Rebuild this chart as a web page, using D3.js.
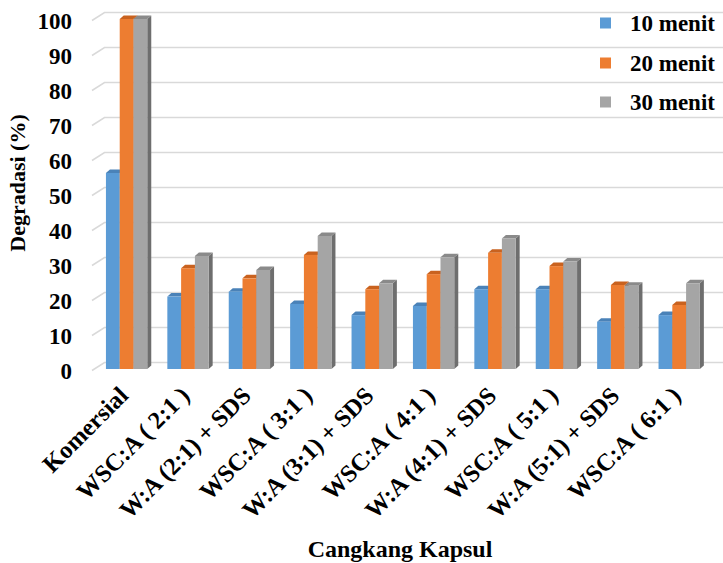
<!DOCTYPE html>
<html>
<head>
<meta charset="utf-8">
<script src="https://cdn.jsdelivr.net/npm/d3@7"></script>
<style>
  html, body { margin: 0; padding: 0; background: #fff; }
  svg { display: block; }
  text { font-family: "Liberation Serif", "Times New Roman", serif; font-weight: bold; fill: #000; }
</style>
</head>
<body>
<svg id="chart" width="723" height="563"></svg>
<script>
// Capsule shell groups
const categories = [
  "Komersial",
  "WSC:A ( 2:1 )",
  "W:A (2:1) + SDS",
  "WSC:A ( 3:1 )",
  "W:A (3:1) + SDS",
  "WSC:A ( 4:1 )",
  "W:A (4:1) + SDS",
  "WSC:A ( 5:1 )",
  "W:A (5:1) + SDS",
  "WSC:A ( 6:1 )"
];
const seriesNames = ["10 menit", "20 menit", "30 menit"];
// Degradation (%) after each time
const menit10 = [56, 20.7, 22.1, 18.6, 15.4, 18.0, 22.8, 22.8, 13.5, 15.4];
const menit20 = [100, 28.8, 25.9, 32.6, 22.8, 27.1, 33.2, 29.4, 24.0, 18.3];
const menit30 = [100, 32.3, 28.3, 38.0, 24.5, 31.9, 37.3, 30.7, 23.8, 24.5];
const yTicks = [0, 10, 20, 30, 40, 50, 60, 70, 80, 90, 100];

const seriesValues = [menit10, menit20, menit30];
const colors = ["#5b9bd5", "#ed7d31", "#a5a5a5"];
const topColors = ["#4a82b8", "#c9621f", "#8a8a8a"];
const sideColors = ["#3f6f9e", "#a9521a", "#6e6e6e"];

const svg = d3.select("#chart");

// front plane scale for the columns
const y = d3.scaleLinear().domain([0, 100]).range([369, 19]);
// depth offsets of the 3D box
const wallDx = 12.5, wallDy = -6.5;   // back wall relative to front
const barDx = 4, barDy = -3.5;        // column depth

const x0 = d3.scaleBand()
  .domain(categories)
  .range([95.9, 709.9])
  .paddingInner(0.327)
  .paddingOuter(0.1635);
const x1 = d3.scaleBand()
  .domain(d3.range(seriesNames.length))
  .range([0, x0.bandwidth()]);

const frontLeft = 92;

// gridlines: slanted side-wall segment plus back-wall line
const grid = svg.append("g");
yTicks.forEach(v => {
  const yb = y(v) + wallDy;
  grid.append("path")
    .attr("d", `M${frontLeft},${yb + 8} L${frontLeft + wallDx},${yb} L723,${yb}`)
    .attr("fill", "none")
    .attr("stroke", "#d9d9d9")
    .attr("stroke-width", 1.5);
});

// y tick labels
svg.append("g").selectAll("text")
  .data(yTicks)
  .join("text")
  .attr("x", 72)
  .attr("y", d => y(d) + 2)
  .attr("text-anchor", "end")
  .attr("dominant-baseline", "central")
  .style("font-size", "23px")
  .text(d => d);

// 3D columns
const bars = svg.append("g");
categories.forEach((cat, i) => {
  seriesValues.forEach((vals, s) => {
    const v = vals[i];
    const xl = x0(cat) + x1(s);
    const xr = xl + x1.bandwidth();
    const yt = y(v), yb = y(0);
    const g = bars.append("g");
    // side face
    g.append("path")
      .attr("d", `M${xr},${yt} L${xr + barDx},${yt + barDy} L${xr + barDx},${yb + barDy} L${xr},${yb} Z`)
      .attr("fill", sideColors[s]);
    // top face
    g.append("path")
      .attr("d", `M${xl},${yt} L${xl + barDx},${yt + barDy} L${xr + barDx},${yt + barDy} L${xr},${yt} Z`)
      .attr("fill", topColors[s]);
    // front face
    g.append("rect")
      .attr("x", xl)
      .attr("y", yt)
      .attr("width", x1.bandwidth())
      .attr("height", yb - yt)
      .attr("fill", colors[s]);
  });
});

// category labels
svg.append("g").selectAll("text")
  .data(categories)
  .join("text")
  .attr("transform", d => `translate(${x0(d) + x0.bandwidth() / 2 + 3},${397}) rotate(-45)`)
  .attr("text-anchor", "end")
  .style("font-size", "24.5px")
  .text(d => d);

// axis titles
svg.append("text")
  .attr("transform", "translate(25,183) rotate(-90)")
  .attr("text-anchor", "middle")
  .style("font-size", "22px")
  .text("Degradasi (%)");

svg.append("text")
  .attr("x", 400)
  .attr("y", 557)
  .attr("text-anchor", "middle")
  .style("font-size", "24px")
  .text("Cangkang Kapsul");

// legend
const legend = svg.append("g");
const legendY = [23, 63, 102];
seriesNames.forEach((name, s) => {
  legend.append("rect")
    .attr("x", 600).attr("y", legendY[s] - 5.5)
    .attr("width", 11).attr("height", 11)
    .attr("fill", colors[s]);
  legend.append("text")
    .attr("x", 630).attr("y", legendY[s])
    .attr("dominant-baseline", "central")
    .style("font-size", "23px")
    .text(name);
});
</script>
</body>
</html>
